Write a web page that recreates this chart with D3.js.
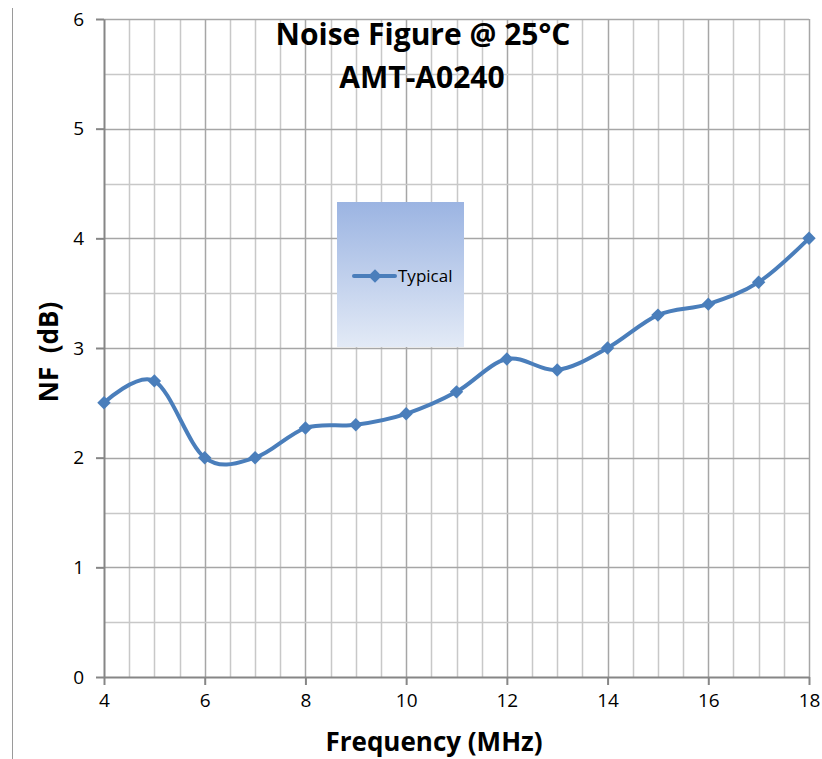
<!DOCTYPE html>
<html>
<head>
<meta charset="utf-8">
<script src="https://cdn.jsdelivr.net/npm/d3@7.9.0/dist/d3.min.js"></script>
<style>
  body { margin: 0; background: #fff; }
  text { font-family: "Open Sans", sans-serif; }
</style>
</head>
<body>
<div id="chart"></div>
<script>
// values
const freqs = [4, 5, 6, 7, 8, 9, 10, 11, 12, 13, 14, 15, 16, 17, 18];
const nf = [2.5, 2.7, 2.0, 2.0, 2.27, 2.3, 2.4, 2.6, 2.9, 2.8, 3.0, 3.3, 3.4, 3.6, 4.0];
const xTicks = [4, 6, 8, 10, 12, 14, 16, 18];
const yTicks = [0, 1, 2, 3, 4, 5, 6];
const seriesName = "Typical";
const titleLines = ["Noise Figure @ 25°C", "AMT-A0240"];

const width = 822;
const height = 759;
const margin = { top: 19, right: 12, bottom: 82, left: 104 };

const svg = d3.select('#chart')
  .append('svg')
  .attr('width', width)
  .attr('height', height);

const xScale = d3.scaleLinear()
  .domain([4, 18])
  .range([margin.left, width - margin.right - 1]);

const yScale = d3.scaleLinear()
  .domain([0, 6])
  .range([height - margin.bottom, margin.top]);

// outer frame edge on the left
svg.append('line')
  .attr('x1', 12.5).attr('x2', 12.5)
  .attr('y1', 8).attr('y2', height)
  .attr('stroke', '#9a9a9a');

// gridlines, minor every 0.5 and major at the labelled ticks
const minorX = d3.range(4.5, 18.01, 0.5);
const minorY = d3.range(0.5, 6.01, 0.5);

const grid = svg.append('g').attr('class', 'gridlines');

grid.selectAll('line.vx')
  .data(minorX)
  .join('line')
  .attr('class', 'vx')
  .attr('x1', d => Math.round(xScale(d)) + 0.5)
  .attr('x2', d => Math.round(xScale(d)) + 0.5)
  .attr('y1', yScale(6)).attr('y2', yScale(0))
  .attr('stroke', d => d % 2 === 0 ? '#a6a6a6' : '#c8c8c8')
  .attr('stroke-width', 1.5);

grid.selectAll('line.hy')
  .data(minorY)
  .join('line')
  .attr('class', 'hy')
  .attr('x1', xScale(4)).attr('x2', xScale(18))
  .attr('y1', d => Math.round(yScale(d)) + 0.5)
  .attr('y2', d => Math.round(yScale(d)) + 0.5)
  .attr('stroke', d => d % 1 === 0 ? '#a6a6a6' : '#c8c8c8')
  .attr('stroke-width', 1.5);

// axes
const xAxis = d3.axisBottom(xScale).tickValues(xTicks).tickFormat(d3.format('d'))
  .tickSize(8).tickSizeOuter(0).tickPadding(9);
const yAxis = d3.axisLeft(yScale).tickValues(yTicks).tickFormat(d3.format('d'))
  .tickSize(8).tickSizeOuter(0).tickPadding(12);

const gx = svg.append('g')
  .attr('transform', `translate(0, ${yScale(0)})`)
  .call(xAxis);

const gy = svg.append('g')
  .attr('transform', `translate(${xScale(4)}, 0)`)
  .call(yAxis);

[gx, gy].forEach(g => {
  g.attr('font-family', null).attr('font-size', null);
  g.selectAll('path, line').attr('stroke', '#868686').attr('stroke-width', 2);
  g.selectAll('text')
    .attr('fill', '#000')
    .style('font-size', '19px')
    .style('font-family', '"Open Sans", sans-serif');
});

// the series, smoothed like the spreadsheet line
const data = freqs.map((f, i) => ({ freq: f, nf: nf[i] }));
const lineColor = '#4a7ebb';

const line = d3.line()
  .x(d => xScale(d.freq))
  .y(d => yScale(d.nf))
  .curve(d3.curveCardinal.tension(0));

svg.append('path')
  .datum(data)
  .attr('d', line)
  .attr('fill', 'none')
  .attr('stroke', lineColor)
  .attr('stroke-width', 4);

const diamond = d3.symbol().type(d3.symbolDiamond2).size(115);

svg.append('g')
  .selectAll('path')
  .data(data)
  .join('path')
  .attr('transform', d => `translate(${xScale(d.freq)}, ${yScale(d.nf)})`)
  .attr('d', diamond)
  .attr('fill', lineColor);

// title
svg.append('text')
  .attr('x', 423).attr('y', 45)
  .attr('text-anchor', 'middle')
  .style('font-size', '30px').style('font-weight', 'bold')
  .text(titleLines[0]);

svg.append('text')
  .attr('x', 422).attr('y', 88)
  .attr('text-anchor', 'middle')
  .style('font-size', '30px').style('font-weight', 'bold')
  .text(titleLines[1]);

// legend with vertical gradient
const defs = svg.append('defs');
const grad = defs.append('linearGradient')
  .attr('id', 'legendGrad')
  .attr('x1', 0).attr('y1', 0).attr('x2', 0).attr('y2', 1);
grad.append('stop').attr('offset', '0%').attr('stop-color', '#9bb4e2');
grad.append('stop').attr('offset', '100%').attr('stop-color', '#e3eaf6');

const legend = svg.append('g').attr('transform', 'translate(337, 202)');
legend.append('rect')
  .attr('width', 127).attr('height', 145)
  .attr('fill', 'url(#legendGrad)');
legend.append('line')
  .attr('x1', 17).attr('x2', 58)
  .attr('y1', 74).attr('y2', 74)
  .attr('stroke', lineColor).attr('stroke-width', 4)
  .attr('stroke-linecap', 'round');
legend.append('path')
  .attr('transform', 'translate(38, 74)')
  .attr('d', diamond)
  .attr('fill', lineColor);
legend.append('text')
  .attr('x', 61).attr('y', 80)
  .style('font-size', '17px')
  .text(seriesName);

// axis titles
svg.append('text')
  .attr('text-anchor', 'middle')
  .attr('transform', `translate(58, 352) rotate(-90)`)
  .style('font-size', '26px').style('font-weight', 'bold')
  .style('white-space', 'pre')
  .text('NF  (dB)');

svg.append('text')
  .attr('x', 434).attr('y', 751)
  .attr('text-anchor', 'middle')
  .style('font-size', '26px').style('font-weight', 'bold')
  .text('Frequency (MHz)');
</script>
</body>
</html>
